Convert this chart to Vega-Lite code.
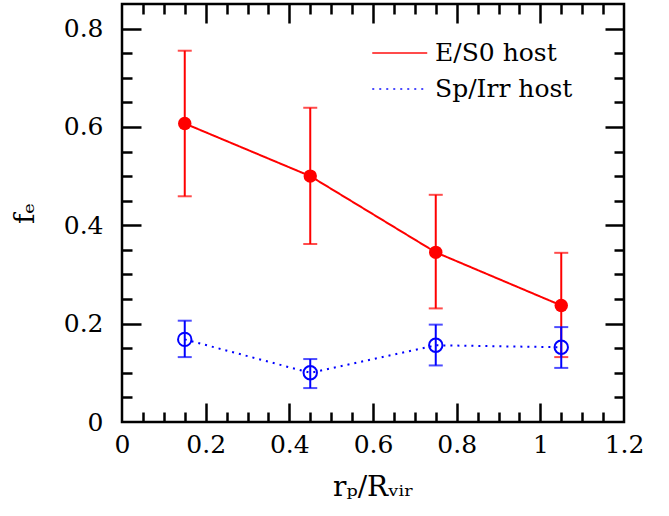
{
  "$schema": "https://vega.github.io/schema/vega-lite/v6.json",
  "autosize": {"type": "none"},
  "padding": {"left": 122, "top": 4, "right": 45, "bottom": 94},
  "width": 502,
  "height": 418,
  "background": "white",
  "config": {
    "view": {"stroke": "black", "strokeWidth": 2.5},
    "font": "DejaVu Serif",
    "axis": {
      "domain": false,
      "grid": false,
      "tickColor": "black",
      "tickWidth": 2.5,
      "labelColor": "black",
      "titleColor": "black",
      "labelFont": "DejaVu Serif",
      "titleFont": "DejaVu Serif",
      "labelFontSize": 25,
      "titleFontSize": 28,
      "titleFontWeight": "normal"
    }
  },
  "data": {
    "values": [
      {"series": "E/S0 host", "r": 0.15, "fe": 0.607, "lo": 0.459, "hi": 0.755},
      {"series": "E/S0 host", "r": 0.45, "fe": 0.500, "lo": 0.362, "hi": 0.639},
      {"series": "E/S0 host", "r": 0.75, "fe": 0.345, "lo": 0.231, "hi": 0.462},
      {"series": "E/S0 host", "r": 1.05, "fe": 0.237, "lo": 0.132, "hi": 0.344},
      {"series": "Sp/Irr host", "r": 0.15, "fe": 0.168, "lo": 0.132, "hi": 0.206},
      {"series": "Sp/Irr host", "r": 0.45, "fe": 0.100, "lo": 0.069, "hi": 0.128},
      {"series": "Sp/Irr host", "r": 0.75, "fe": 0.156, "lo": 0.115, "hi": 0.198},
      {"series": "Sp/Irr host", "r": 1.05, "fe": 0.152, "lo": 0.110, "hi": 0.193}
    ]
  },
  "resolve": {"axis": {"x": "independent", "y": "independent"}},
  "layer": [
    {
      "transform": [{"filter": "datum.series === 'E/S0 host'"}],
      "mark": {"type": "rule", "strokeWidth": 2},
      "encoding": {
        "x": {
          "field": "r", "type": "quantitative",
          "scale": {"domain": [0, 1.2], "nice": false, "zero": false},
          "axis": {
            "orient": "bottom", "ticks": false, "labelPadding": 10,
            "values": [0, 0.2, 0.4, 0.6, 0.8, 1, 1.2], "format": "~g",
            "labelFlush": false, "labelOverlap": false,
            "title": "rₚ/Rᵥᵢᵣ", "titlePadding": 16
          }
        },
        "y": {
          "field": "lo", "type": "quantitative",
          "scale": {"domain": [0, 0.85], "nice": false, "zero": false},
          "axis": {
            "orient": "left", "ticks": false, "labelPadding": 19,
            "values": [0, 0.2, 0.4, 0.6, 0.8], "format": "~g",
            "labelFlush": false, "labelOverlap": false,
            "title": "fₑ", "titlePadding": 24
          }
        },
        "y2": {"field": "hi"},
        "color": {
          "field": "series", "type": "nominal",
          "scale": {"domain": ["E/S0 host", "Sp/Irr host"], "range": ["#ff0000", "#0000ff"]},
          "legend": {
            "orient": "none", "legendX": 249, "legendY": 34,
            "title": null,
            "symbolType": "M-1,0H3", "symbolSize": 756, "symbolStrokeWidth": 2,
            "symbolFillColor": "transparent",
            "labelFont": "DejaVu Serif", "labelFontSize": 25, "labelColor": "black",
            "labelOffset": 34, "rowPadding": 8, "labelLimit": 300
          }
        }
      }
    },
    {
      "transform": [{"filter": "datum.series === 'E/S0 host'"}],
      "mark": {"type": "tick", "orient": "horizontal", "size": 14, "thickness": 2},
      "encoding": {
        "x": {
          "field": "r", "type": "quantitative",
          "axis": {
            "orient": "bottom", "labels": false, "title": null, "tickSize": -10,
            "values": [0.05, 0.1, 0.15, 0.25, 0.3, 0.35, 0.45, 0.5, 0.55, 0.65, 0.7, 0.75, 0.85, 0.9, 0.95, 1.05, 1.1, 1.15]
          }
        },
        "y": {
          "field": "hi", "type": "quantitative",
          "axis": {
            "orient": "left", "labels": false, "title": null, "tickSize": -10,
            "values": [0.05, 0.1, 0.15, 0.25, 0.3, 0.35, 0.45, 0.5, 0.55, 0.65, 0.7, 0.75]
          }
        },
        "color": {"field": "series", "type": "nominal"}
      }
    },
    {
      "transform": [{"filter": "datum.series === 'E/S0 host'"}],
      "mark": {"type": "tick", "orient": "horizontal", "size": 14, "thickness": 2},
      "encoding": {
        "x": {
          "field": "r", "type": "quantitative",
          "axis": {
            "orient": "top", "labels": false, "title": null, "tickSize": -10,
            "values": [0.05, 0.1, 0.15, 0.25, 0.3, 0.35, 0.45, 0.5, 0.55, 0.65, 0.7, 0.75, 0.85, 0.9, 0.95, 1.05, 1.1, 1.15]
          }
        },
        "y": {
          "field": "lo", "type": "quantitative",
          "axis": {
            "orient": "right", "labels": false, "title": null, "tickSize": -10,
            "values": [0.05, 0.1, 0.15, 0.25, 0.3, 0.35, 0.45, 0.5, 0.55, 0.65, 0.7, 0.75]
          }
        },
        "color": {"field": "series", "type": "nominal"}
      }
    },
    {
      "mark": {"type": "line", "strokeWidth": 2},
      "encoding": {
        "x": {
          "field": "r", "type": "quantitative",
          "axis": {
            "orient": "bottom", "labels": false, "title": null, "tickSize": -19,
            "values": [0.2, 0.4, 0.6, 0.8, 1]
          }
        },
        "y": {
          "field": "fe", "type": "quantitative",
          "axis": {
            "orient": "left", "labels": false, "title": null, "tickSize": -19,
            "values": [0.2, 0.4, 0.6, 0.8]
          }
        },
        "color": {"field": "series", "type": "nominal"},
        "strokeDash": {
          "field": "series", "type": "nominal",
          "scale": {"domain": ["E/S0 host", "Sp/Irr host"], "range": [[1, 0], [2, 5]]}
        }
      }
    },
    {
      "transform": [{"filter": "datum.series === 'E/S0 host'"}],
      "mark": {"type": "circle", "size": 180, "opacity": 1},
      "encoding": {
        "x": {
          "field": "r", "type": "quantitative",
          "axis": {
            "orient": "top", "labels": false, "title": null, "tickSize": -19,
            "values": [0.2, 0.4, 0.6, 0.8, 1]
          }
        },
        "y": {
          "field": "fe", "type": "quantitative",
          "axis": {
            "orient": "right", "labels": false, "title": null, "tickSize": -19,
            "values": [0.2, 0.4, 0.6, 0.8]
          }
        },
        "color": {"field": "series", "type": "nominal"}
      }
    },
    {
      "transform": [{"filter": "datum.series === 'Sp/Irr host'"}],
      "mark": {"type": "rule", "strokeWidth": 2},
      "encoding": {
        "x": {"field": "r", "type": "quantitative", "axis": null},
        "y": {"field": "lo", "type": "quantitative", "axis": null},
        "y2": {"field": "hi"},
        "color": {"field": "series", "type": "nominal"}
      }
    },
    {
      "transform": [{"filter": "datum.series === 'Sp/Irr host'"}],
      "mark": {"type": "tick", "orient": "horizontal", "size": 14, "thickness": 2},
      "encoding": {
        "x": {"field": "r", "type": "quantitative", "axis": null},
        "y": {"field": "lo", "type": "quantitative", "axis": null},
        "color": {"field": "series", "type": "nominal"}
      }
    },
    {
      "transform": [{"filter": "datum.series === 'Sp/Irr host'"}],
      "mark": {"type": "tick", "orient": "horizontal", "size": 14, "thickness": 2},
      "encoding": {
        "x": {"field": "r", "type": "quantitative", "axis": null},
        "y": {"field": "hi", "type": "quantitative", "axis": null},
        "color": {"field": "series", "type": "nominal"}
      }
    },
    {
      "transform": [{"filter": "datum.series === 'Sp/Irr host'"}],
      "mark": {"type": "point", "shape": "circle", "size": 180, "filled": false, "strokeWidth": 2, "opacity": 1},
      "encoding": {
        "x": {"field": "r", "type": "quantitative", "axis": null},
        "y": {"field": "fe", "type": "quantitative", "axis": null},
        "color": {"field": "series", "type": "nominal"}
      }
    }
  ]
}
